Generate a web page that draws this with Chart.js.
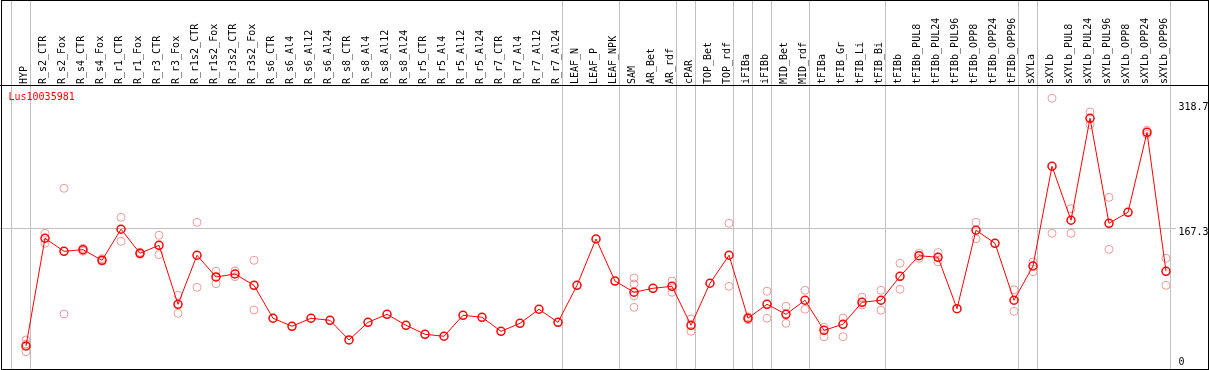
<!DOCTYPE html>
<html>
<head>
<meta charset="utf-8">
<script src="https://cdn.jsdelivr.net/npm/chart.js@4"></script>
<style>
  html, body { margin: 0; padding: 0; background: #fff; }
  canvas { display: block; }
</style>
</head>
<body>
<canvas id="chart" width="1209" height="370"></canvas>
<script>
const geneName = 'Lus10035981';

const categories = [
  'HYP', 'R_s2_CTR', 'R_s2_Fox', 'R_s4_CTR', 'R_s4_Fox', 'R_r1_CTR', 'R_r1_Fox', 'R_r3_CTR', 'R_r3_Fox',
  'R_r1s2_CTR', 'R_r1s2_Fox', 'R_r3s2_CTR', 'R_r3s2_Fox', 'R_s6_CTR', 'R_s6_Al4', 'R_s6_Al12', 'R_s6_Al24',
  'R_s8_CTR', 'R_s8_Al4', 'R_s8_Al12', 'R_s8_Al24', 'R_r5_CTR', 'R_r5_Al4', 'R_r5_Al12', 'R_r5_Al24',
  'R_r7_CTR', 'R_r7_Al4', 'R_r7_Al12', 'R_r7_Al24', 'LEAF_N', 'LEAF_P', 'LEAF_NPK', 'SAM', 'AR_Bet', 'AR_rdf',
  'cPAR', 'TOP_Bet', 'TOP_rdf', 'iFIBa', 'iFIBb', 'MID_Bet', 'MID_rdf', 'tFIBa', 'tFIB_Gr', 'tFIB_Li', 'tFIB_Bi',
  'tFIBb', 'tFIBb_PUL8', 'tFIBb_PUL24', 'tFIBb_PUL96', 'tFIBb_OPP8', 'tFIBb_OPP24', 'tFIBb_OPP96',
  'sXYLa', 'sXYLb', 'sXYLb_PUL8', 'sXYLb_PUL24', 'sXYLb_PUL96', 'sXYLb_OPP8', 'sXYLb_OPP24', 'sXYLb_OPP96'
];

// mean expression per sample
const means = [
  24.7, 155.2, 139.4, 141.4, 128.5, 166.1, 137.0, 146.7, 75.2, 134.6, 108.3, 111.9, 98.2,
  58.3, 48.6, 58.3, 55.8, 32.0, 53.4, 63.1, 49.8, 38.9, 36.5, 61.9, 59.5, 42.5, 52.2, 69.2, 53.4,
  98.2, 154.3, 103.4, 89.8, 94.6, 97.0, 49.8, 100.7, 134.6, 58.3, 75.2, 63.1, 80.1, 43.7, 51.0, 77.6, 80.1,
  109.1, 134.1, 132.1, 69.9, 164.9, 149.1, 80.1, 121.6, 242.4, 177.0, 300.5, 173.3, 186.6, 283.5, 115.2
];

// individual replicates (faint circles)
const replicates = [
  [32.0, 27.1, 17.8], [161.2, 149.1], [215.7, 63.5], [143.0, 139.5], [130.5, 127.3], [180.6, 151.5],
  [138.3, 135.7], [158.8, 135.3], [86.1, 64.3], [174.5, 95.8], [115.2, 100.2], [115.6, 108.7], [128.5, 68.3],
  [], [], [], [], [], [], [], [], [], [], [], [], [], [], [], [],
  [], [], [], [107.1, 99.8, 85.6, 71.6], [], [103.4, 89.8], [57.4, 42.5], [], [173.3, 97.0],
  [60.0, 56.6], [91.0, 58.3], [72.8, 52.2], [92.2, 69.2], [47.4, 36.0], [58.6, 36.0], [83.7, 74.4], [92.2, 68.0],
  [124.9, 93.4], [137.0, 130.9], [137.7, 126.5], [], [174.5, 154.7], [], [92.9, 66.7],
  [126.5, 114.7], [324.7, 161.2], [191.0, 161.2], [308.1, 292.8], [204.8, 141.8], [], [286.0, 281.0], [130.9, 98.2]
];

const yTicks = [0, 167.3, 318.7];
const yTickLabels = ['0', '167.3', '318.7'];
const refLine = 167.3;

// group separators come right after these sample indexes
const groupEnds = [-1, 0, 28, 31, 34, 35, 37, 38, 39, 41, 45, 52, 53, 60];

const mono = 'DejaVu Sans Mono';

const repPoints = [];
replicates.forEach((vals, i) => {
  vals.forEach(v => repPoints.push({ x: categories[i], y: v }));
});

const decorations = {
  id: 'decorations',
  beforeDatasetsDraw(chart) {
    const { ctx, scales: { x, y } } = chart;
    const step = x.getPixelForValue(1) - x.getPixelForValue(0);
    ctx.save();
    ctx.lineWidth = 1;
    ctx.strokeStyle = '#c0c0c0';
    groupEnds.forEach(i => {
      const px = Math.round(x.getPixelForValue(0) + i * step + 4.5) - 0.5;
      ctx.beginPath();
      ctx.moveTo(px, 0);
      ctx.lineTo(px, 370);
      ctx.stroke();
    });
    const py = Math.floor(y.getPixelForValue(refLine)) + 0.5;
    ctx.beginPath();
    ctx.moveTo(0, py);
    ctx.lineTo(1176, py);
    ctx.stroke();

    ctx.strokeStyle = '#000';
    ctx.beginPath();
    ctx.moveTo(0, 85.5);
    ctx.lineTo(1209, 85.5);
    ctx.stroke();
    ctx.strokeRect(1.5, 0.5, 1207, 369);

    ctx.fillStyle = '#ff0000';
    ctx.font = '10px "' + mono + '"';
    ctx.textBaseline = 'top';
    ctx.fillText(geneName, 8.5, 92);
    ctx.restore();
  }
};

new Chart(document.getElementById('chart'), {
  type: 'line',
  data: {
    labels: categories,
    datasets: [
      {
        data: means,
        borderColor: '#ff0000',
        borderWidth: 1,
        pointRadius: 4,
        pointBorderWidth: 1.5,
        pointBorderColor: '#ff0000',
        pointBackgroundColor: 'rgba(0,0,0,0)',
        tension: 0
      },
      {
        data: repPoints,
        showLine: false,
        pointRadius: 4,
        pointBorderWidth: 1,
        pointBorderColor: '#f09a9a',
        pointBackgroundColor: 'rgba(0,0,0,0)'
      }
    ]
  },
  options: {
    responsive: false,
    animation: false,
    layout: { autoPadding: false, padding: { left: 16.5, right: 0, top: 0, bottom: 1 } },
    plugins: { legend: { display: false }, tooltip: { enabled: false } },
    scales: {
      x: {
        type: 'category',
        position: 'top',
        offset: true,
        grid: { display: false, drawTicks: false },
        border: { display: false },
        ticks: {
          autoSkip: false,
          minRotation: 90,
          maxRotation: 90,
          padding: 2,
          labelOffset: 10,
          color: '#000',
          font: { family: mono, size: 10 }
        },
        afterFit: scale => {
          scale.height = 86;
          scale.paddingLeft = 0;
          scale.paddingRight = 0;
        }
      },
      y: {
        position: 'right',
        bounds: 'data',
        min: -3.15,
        max: 339.6,
        grid: { display: false, drawTicks: false },
        border: { display: false },
        afterBuildTicks: scale => { scale.ticks = yTicks.map(v => ({ value: v })); },
        ticks: {
          padding: 3,
          labelOffset: 4,
          color: '#000',
          font: { family: mono, size: 10, lineHeight: 1.68 },
          callback: (value) => {
            const label = yTickLabels[yTicks.indexOf(value)];
            return value === 0 ? [label, ''] : label;
          }
        },
        afterFit: scale => {
          scale.width = 33.5;
          scale.paddingTop = 0;
          scale.paddingBottom = 0;
        }
      }
    }
  },
  plugins: [decorations]
});
</script>
</body>
</html>
